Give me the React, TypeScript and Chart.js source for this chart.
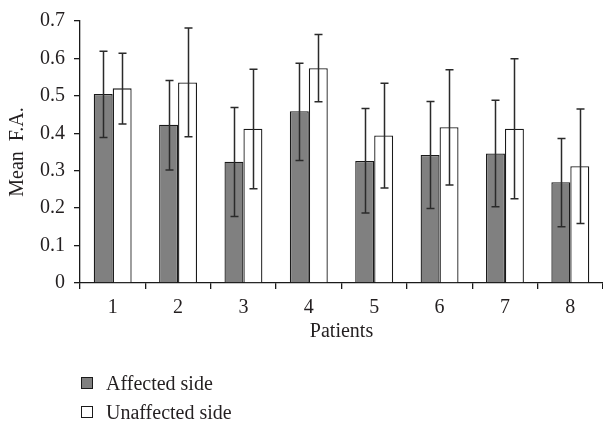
import React, { useEffect, useRef } from "react";
import { Chart, registerables } from "chart.js";

Chart.register(...registerables);

const patients = ["1", "2", "3", "4", "5", "6", "7", "8"];
const affectedMean = [0.505, 0.423, 0.324, 0.459, 0.326, 0.342, 0.346, 0.269];
const affectedHigh = [0.619, 0.541, 0.469, 0.587, 0.466, 0.485, 0.488, 0.386];
const affectedLow = [0.389, 0.302, 0.178, 0.327, 0.187, 0.199, 0.204, 0.15];
const unaffectedMean = [0.52, 0.536, 0.412, 0.574, 0.394, 0.416, 0.412, 0.312];
const unaffectedHigh = [0.614, 0.681, 0.571, 0.664, 0.534, 0.57, 0.599, 0.465];
const unaffectedLow = [0.425, 0.391, 0.252, 0.484, 0.254, 0.262, 0.225, 0.159];
const seriesNames = ["Affected side", "Unaffected side"];
const yMin = 0;
const yMax = 0.7;
const yStep = 0.1;

const TEXT = "#231f20";
const FONT = "'Liberation Serif', 'DejaVu Serif', serif";
const FSIZE = 20;

const errorBarPlugin = {
  id: "errorBars",
  afterDatasetsDraw(chart: any) {
    const ctx = chart.ctx;
    const y = chart.scales.y;
    const sets = [
      [affectedHigh, affectedLow],
      [unaffectedHigh, unaffectedLow],
    ];
    ctx.save();
    ctx.strokeStyle = "#2a2a2a";
    ctx.lineWidth = 1.5;
    sets.forEach(([hi, lo], di) => {
      const meta = chart.getDatasetMeta(di);
      meta.data.forEach((el: any, i: number) => {
        const x = Math.round(el.x) + 0.5;
        const t = y.getPixelForValue(hi[i]);
        const b = y.getPixelForValue(lo[i]);
        ctx.beginPath();
        ctx.moveTo(x, t);
        ctx.lineTo(x, b);
        ctx.moveTo(x - 4, t);
        ctx.lineTo(x + 4, t);
        ctx.moveTo(x - 4, b);
        ctx.lineTo(x + 4, b);
        ctx.stroke();
      });
    });
    ctx.restore();
  },
};

export default function App() {
  const ref = useRef<HTMLCanvasElement | null>(null);

  useEffect(() => {
    if (!ref.current) return;
    const chart = new Chart(ref.current, {
      type: "bar",
      data: {
        labels: patients,
        datasets: [
          {
            label: seriesNames[0],
            data: affectedMean,
            backgroundColor: "#808080",
            borderColor: "#1a1a1a",
            borderWidth: 1.3,
          },
          {
            label: seriesNames[1],
            data: unaffectedMean,
            backgroundColor: "#ffffff",
            borderColor: "#1a1a1a",
            borderWidth: 1.3,
          },
        ],
      },
      options: {
        responsive: false,
        animation: false,
        layout: { padding: { top: 18, bottom: 78, left: 0, right: 0 } },
        plugins: {
          legend: { display: false },
          tooltip: { enabled: false },
        },
        datasets: {
          bar: { categoryPercentage: 0.58, barPercentage: 1.0 },
        },
        scales: {
          x: {
            grid: {
              display: true,
              drawOnChartArea: false,
              drawTicks: true,
              tickLength: 6,
              color: "#1a1a1a",
              lineWidth: 1.3,
            },
            border: { color: "#1a1a1a", width: 1.3 },
            ticks: {
              color: TEXT,
              font: { family: FONT, size: FSIZE },
              padding: 7,
            },
            title: {
              display: true,
              text: "Patients",
              color: TEXT,
              font: { family: FONT, size: FSIZE },
              padding: { top: 0, bottom: 1 },
            },
            afterFit(scale: any) {
              scale.height = 62;
            },
          },
          y: {
            min: yMin,
            max: yMax,
            grid: {
              display: true,
              drawOnChartArea: false,
              drawTicks: true,
              tickLength: 6,
              color: "#1a1a1a",
              lineWidth: 1.3,
            },
            border: { color: "#1a1a1a", width: 1.3 },
            ticks: {
              stepSize: yStep,
              color: TEXT,
              font: { family: FONT, size: FSIZE },
              padding: 9,
              callback: (v: any) => (Number(v) === 0 ? "0" : Number(v).toFixed(1)),
            },
            title: {
              display: true,
              text: "Mean  F.A.",
              color: TEXT,
              font: { family: FONT, size: FSIZE },
              padding: { top: 6, bottom: 0 },
            },
            afterFit(scale: any) {
              scale.width = 80;
            },
          },
        },
      },
      plugins: [errorBarPlugin],
    } as any);
    return () => chart.destroy();
  }, []);

  const legendRow = (fill: string, text: string, top: number) => (
    <div
      style={{
        position: "absolute",
        left: 81,
        top,
        display: "flex",
        alignItems: "center",
        fontFamily: FONT,
        fontSize: FSIZE,
        color: TEXT,
        lineHeight: "22px",
        whiteSpace: "nowrap",
      }}
    >
      <span
        style={{
          display: "inline-block",
          width: 10,
          height: 10,
          background: fill,
          border: "1.3px solid #1a1a1a",
          marginRight: 13,
        }}
      />
      <span>{text}</span>
    </div>
  );

  return (
    <div
      style={{
        position: "fixed",
        left: 0,
        top: 0,
        width: 603,
        height: 423,
        background: "#ffffff",
      }}
    >
      <canvas ref={ref} width={603} height={423} style={{ display: "block" }} />
      {legendRow("#808080", seriesNames[0], 372)}
      {legendRow("#ffffff", seriesNames[1], 401)}
    </div>
  );
}
